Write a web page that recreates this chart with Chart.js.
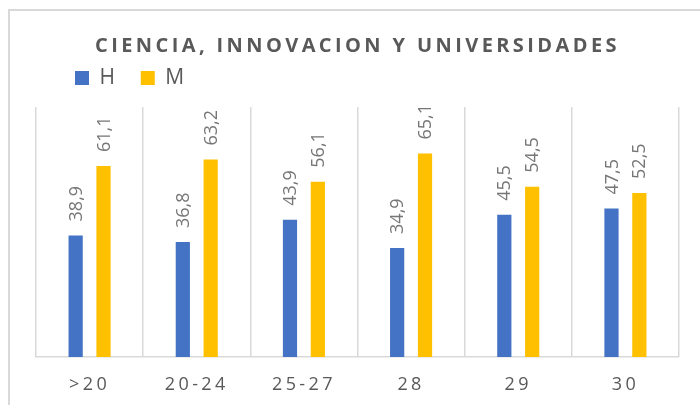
<!DOCTYPE html>
<html>
<head>
<meta charset="utf-8">
<script src="https://cdn.jsdelivr.net/npm/chart.js@4.4.1/dist/chart.umd.min.js"></script>
<style>
    html, body { margin: 0; padding: 0; background: #fff; overflow: hidden; }
    #frame { position: absolute; left: 8px; top: 9px; width: 800px; height: 500px;
             border-left: 2px solid #d9d9d9; border-top: 2px solid #d9d9d9; }
    #wrap { position: absolute; left: 0; top: 0; width: 700px; height: 405px; }
</style>
</head>
<body>
<div id="frame"></div>
<div id="wrap"><canvas id="chart"></canvas></div>
<script>
const categories = ['>20', '20-24', '25-27', '28', '29', '30'];
const seriesNames = ['H', 'M'];
const valuesH = [38.9, 36.8, 43.9, 34.9, 45.5, 47.5];
const valuesM = [61.1, 63.2, 56.1, 65.1, 54.5, 52.5];

const TEXT_GRAY = '#595959';
const SPACING = '3.4px';

// letter spacing for title and axis labels (Excel style)
const spacingPlugin = {
    id: 'spacing',
    beforeUpdate(chart) { chart.ctx.letterSpacing = SPACING; },
    beforeDraw(chart) { chart.ctx.letterSpacing = SPACING; }
};

// move the legend to where Excel puts it
const legendShift = {
    id: 'legendShift',
    afterLayout(chart) {
        chart.legend.left += 16.6;
        chart.legend.top -= 12.9;
    }
};

// rotated value labels above each bar
const barLabels = {
    id: 'barLabels',
    afterDatasetsDraw(chart) {
        const ctx = chart.ctx;
        ctx.save();
        ctx.letterSpacing = '0px';
        ctx.font = '18px "Open Sans"';
        ctx.fillStyle = '#767676';
        ctx.textAlign = 'left';
        ctx.textBaseline = 'middle';
        chart.data.datasets.forEach((ds, i) => {
            chart.getDatasetMeta(i).data.forEach((bar, j) => {
                const txt = ds.data[j].toFixed(1).replace('.', ',');
                ctx.save();
                ctx.translate(bar.x + 1, bar.y - 14);
                ctx.rotate(-Math.PI / 2);
                ctx.fillText(txt, 0, 0);
                ctx.restore();
            });
        });
        ctx.restore();
    }
};

const ctx = document.getElementById('chart').getContext('2d');
new Chart(ctx, {
    type: 'bar',
    data: {
        labels: categories,
        datasets: [
            { label: seriesNames[0], data: valuesH, backgroundColor: '#4472C4' },
            { label: seriesNames[1], data: valuesM, backgroundColor: '#FFC000' }
        ]
    },
    options: {
        responsive: true,
        maintainAspectRatio: false,
        animation: false,
        categoryPercentage: 0.52,
        barPercentage: 0.51,
        layout: { padding: { left: 36, right: 21, top: 0, bottom: 0 } },
        plugins: {
            tooltip: { enabled: false },
            title: {
                display: true,
                text: 'CIENCIA, INNOVACION Y UNIVERSIDADES',
                color: TEXT_GRAY,
                font: { family: 'Open Sans', size: 20, weight: 'bold', lineHeight: 1.2 },
                padding: { top: 34, bottom: 0 }
            },
            legend: {
                position: 'top',
                align: 'start',
                maxHeight: 49,
                labels: {
                    color: TEXT_GRAY,
                    font: { family: 'Open Sans', size: 21 },
                    boxWidth: 14,
                    boxHeight: 14,
                    padding: 22.4
                }
            }
        },
        scales: {
            x: {
                grid: { color: '#d9d9d9', lineWidth: 1.5, drawTicks: false, offset: true },
                border: { color: '#d9d9d9', width: 1.5 },
                ticks: {
                    color: TEXT_GRAY,
                    font: { family: 'Open Sans', size: 18, lineHeight: 1 },
                    padding: 19,
                    autoSkip: false,
                    maxRotation: 0
                },
                afterFit(scale) { scale.height = 48; }
            },
            y: { display: false, min: 0, max: 80 }
        }
    },
    plugins: [spacingPlugin, legendShift, barLabels]
});
</script>
</body>
</html>
